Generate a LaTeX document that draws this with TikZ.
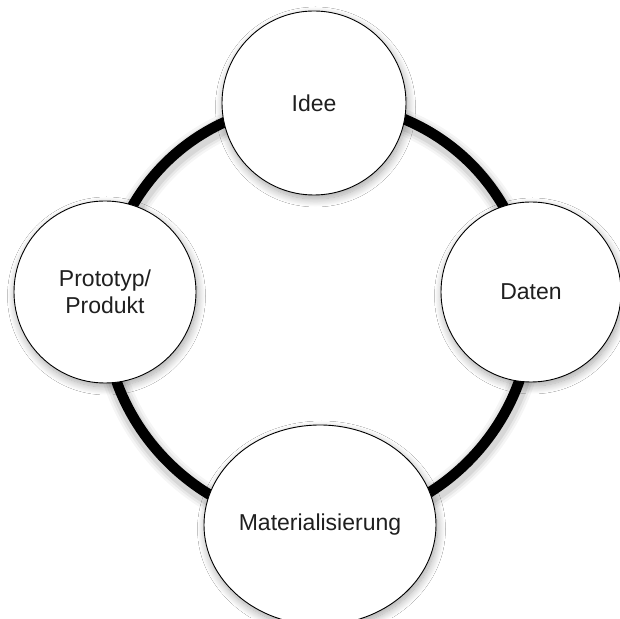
\documentclass[tikz,border=0pt]{standalone}
\usepackage{fontspec}
\setmainfont{Liberation Sans}
\usetikzlibrary{shapes.geometric,shadows.blur}
\pgfdeclarelayer{background}
\pgfsetlayers{background,main}
\begin{document}
\begin{tikzpicture}[x=1pt,y=1pt,
  stage/.style={circle, draw=black, line width=0.9pt, fill=white,
    inner sep=0pt, text=black!88, align=center,
    font=\fontsize{23}{27}\selectfont,
    blur shadow={shadow xshift=1.5pt, shadow yshift=-4pt,
      shadow blur radius=8pt, shadow blur steps=12, shadow opacity=35}},
  wide stage/.style={stage, ellipse},
  ringshade/.style={draw=black, draw opacity=#1,
    transform canvas={shift={(1pt,-4pt)}}},
  ring/.style={draw=black, line width=10.5pt,
    preaction={ringshade=0.04, line width=26pt},
    preaction={ringshade=0.05, line width=21pt},
    preaction={ringshade=0.07, line width=16pt}}
]
\useasboundingbox (0,0) rectangle (620,618);

% the four stages of the cycle
\node[stage, minimum size=184pt] (idee) at (314,515) {Idee};
\node[stage, minimum size=180pt] (daten) at (531,326) {Daten};
\node[wide stage, minimum width=232pt, minimum height=200pt] (mat) at (320,93) {Materialisierung};
\node[stage, minimum size=182pt] (proto) at (105,326) {Prototyp/\\Produkt};

% white page and the heavy ring behind the stages
\begin{pgfonlayer}{background}
  \fill[white] (0,0) rectangle (620,618);
  \draw[ring] (idee.center) to[bend left=43] (daten.center);
  \draw[ring] (daten.center) to[bend left=47] (mat.center);
  \draw[ring] (mat.center) to[bend left=48] (proto.center);
  \draw[ring] (proto.center) to[bend left=42] (idee.center);
\end{pgfonlayer}
\end{tikzpicture}
\end{document}
